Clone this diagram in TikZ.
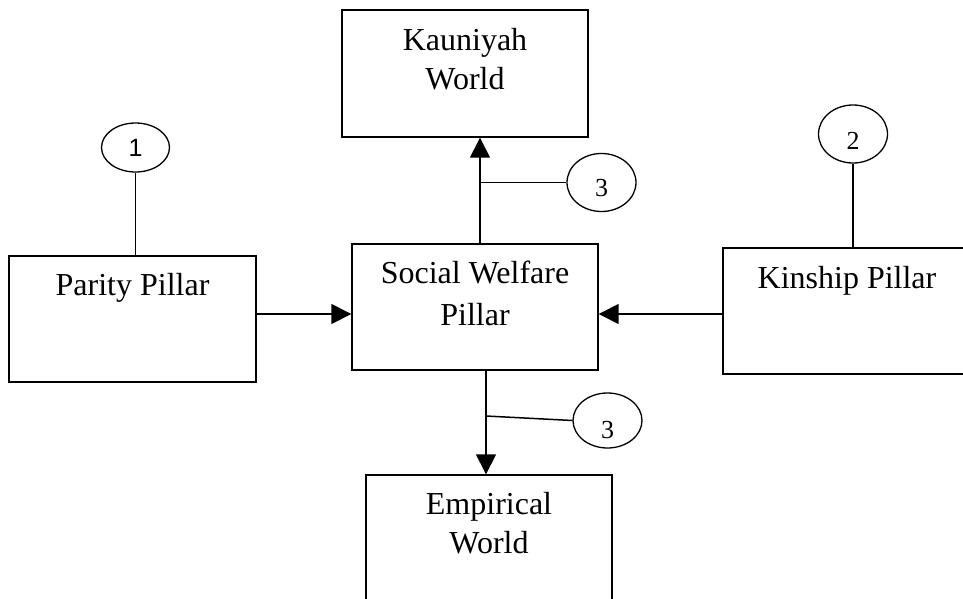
\documentclass[tikz,border=0pt]{standalone}
\usepackage{fontspec}
\setmainfont{Liberation Serif}
\newfontfamily\digsans{Liberation Sans}
\usetikzlibrary{arrows.meta,shapes.geometric,calc}
\begin{document}
\begin{tikzpicture}[x=1pt,y=-1pt,
  box/.style={draw,line width=1.4pt,rectangle,inner sep=0pt},
  lbl/.style={font=\fontsize{32}{38}\selectfont,anchor=base,inner sep=0pt},
  circ/.style={draw,line width=1.3pt,ellipse,inner sep=0pt,minimum width=69pt,minimum height=57pt,font=\fontsize{26}{30}\selectfont,text depth=0pt},
  conn/.style={line width=1.5pt},
  arr/.style={line width=1.5pt,-{Triangle[length=20pt,width=20pt]}}]
\useasboundingbox (0,0) rectangle (963,599);
\clip (0,0) rectangle (963,599);
\fill[white] (0,0) rectangle (963,599);
% boxes
\node[box,minimum width=246pt,minimum height=127pt] (kau) at (465,73.5) {};
\node[box,minimum width=246pt,minimum height=126pt] (soc) at (475,307) {};
\node[box,minimum width=247pt,minimum height=126pt] (par) at (132.5,319) {};
\node[box,minimum width=262pt,minimum height=126pt] (kin) at (854,311) {};
\node[box,minimum width=246pt,minimum height=140pt] (emp) at (489,545) {};
% texts
\node[lbl] (kauA) at (465,51) {Kauniyah};
\node[lbl] (kauB) at (465,90) {World};
\node[lbl] (socA) at (475,283) {Social Welfare};
\node[lbl] (socB) at (475,325) {Pillar};
\node[lbl] (parA) at (132.5,295) {Parity Pillar};
\node[lbl] (kinA) at (847,288) {Kinship Pillar};
\node[lbl] (empA) at (489,514) {Empirical};
\node[lbl] (empB) at (489,553) {World};
% circles
\node[circ,minimum width=68pt,minimum height=49pt,font=\digsans\fontsize{25}{29}\selectfont,text height=18pt] (c1) at (135.5,147.5) {1};
\node[circ,minimum height=58pt,text height=30pt] (c2) at (853,134) {2};
\node[circ,minimum height=58pt,text height=27pt] (c3a) at (601.5,182.5) {3};
\node[circ,minimum height=55pt,text height=35pt] (c3b) at (607.5,420.5) {3};
% helper coordinates
\coordinate (ay) at (0,314);
\coordinate (ux) at (480,0);
\coordinate (dx) at (486,0);
\coordinate (b3) at (486,416);
% connectors
\draw[conn] (c1.south) -- (c1.south |- par.north);
\draw[conn] (c2.south) -- (c2.south |- kin.north);
\draw[arr] (par.east |- ay) -- (soc.west |- ay);
\draw[arr] (kin.west |- ay) -- (soc.east |- ay);
\draw[arr] (soc.north -| ux) -- (kau.south -| ux);
\draw[conn] (ux |- c3a.west) -- (c3a.west);
\draw[arr] (soc.south -| dx) -- (emp.north -| dx);
\draw[conn] (b3) -- (c3b.west);
\end{tikzpicture}
\end{document}
